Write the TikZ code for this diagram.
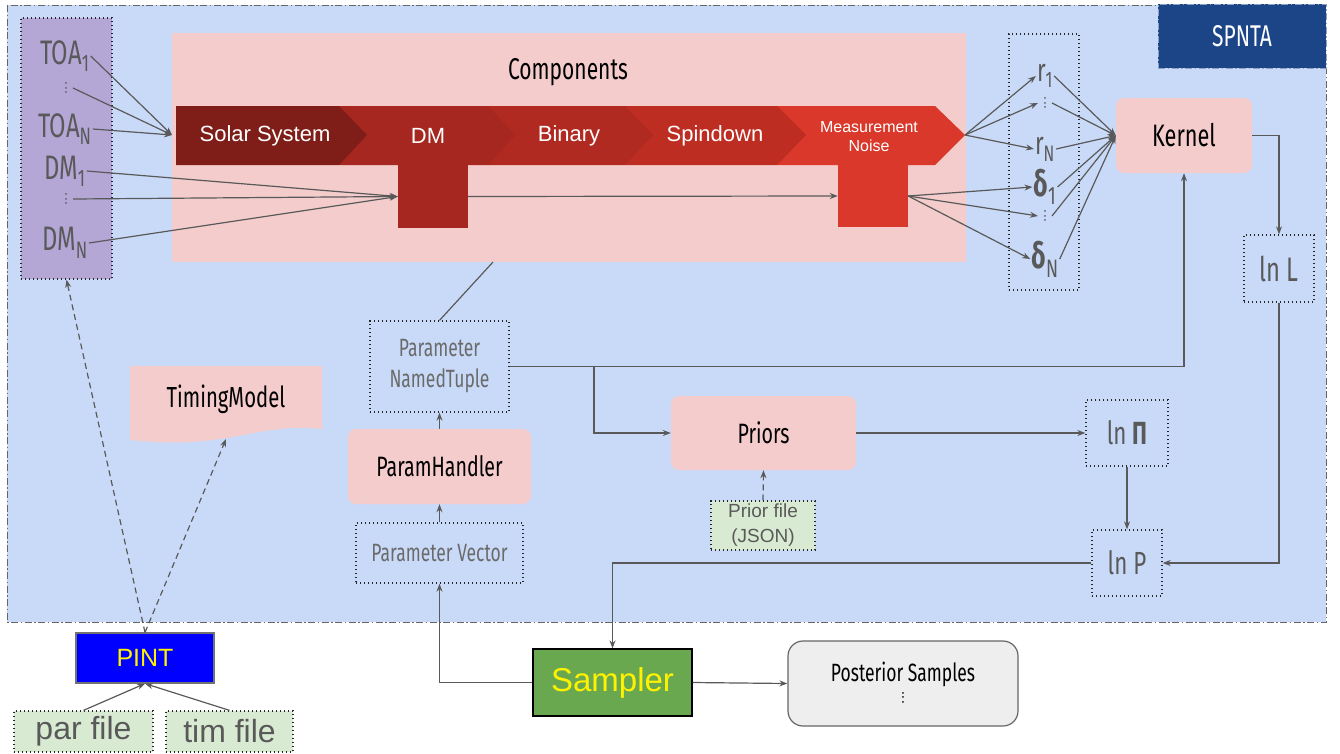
\documentclass[tikz,border=0pt]{standalone}
\usepackage{fontspec}
\setmainfont{Liberation Sans}
\newfontfamily\nrw[FakeStretch=0.7]{Fira Sans}
\usetikzlibrary{arrows.meta,
	calc,
	positioning}
\definecolor{spbg}{HTML}{C9DAF8}
\definecolor{spblue}{HTML}{1C4587}
\definecolor{pnk}{HTML}{F4CCCC}
\definecolor{purp}{HTML}{B4A7D6}
\definecolor{grnf}{HTML}{D9EAD3}
\definecolor{txt}{HTML}{595959}
\definecolor{arc}{HTML}{595959}
\definecolor{sscol}{HTML}{7F1D18}
\definecolor{dmcol}{HTML}{A6271F}
\definecolor{bicol}{HTML}{B02A21}
\definecolor{spcol}{HTML}{BE2D22}
\definecolor{mncol}{HTML}{D9382B}
\definecolor{smp}{HTML}{6AA84F}
\definecolor{postf}{HTML}{EEEEEE}
\newcommand{\fsz}[1]{\fontsize{#1}{#1}\selectfont}
\newcommand{\vd}{\rotatebox{90}{\normalfont\fsz{15}.\kern0.6pt.\kern0.6pt.}}
\tikzstyle{pk}=[fill=pnk, rounded corners=8pt, inner sep=0, font=\nrw\fsz{28}]
\tikzstyle{dt}=[draw=black!85, dash pattern=on 1.4pt off 2.6pt, line width=1.3pt, inner sep=0]
\tikzstyle{gf}=[dt, fill=grnf, text=txt, align=center]
\tikzstyle{gt}=[text=txt, font=\nrw\fsz{34}, inner sep=1pt]
\tikzstyle{ar}=[draw=arc, line width=1.2pt, -{Stealth[length=8pt,width=6pt]}]
\tikzstyle{dar}=[ar, dash pattern=on 6pt off 4pt]
\tikzstyle{pl}=[draw=arc, line width=1.2pt]
\tikzstyle{dd}=[dash pattern=on 7pt off 2.5pt on 1.5pt off 2.5pt]

\begin{document}
\begin{tikzpicture}[x=1pt,y=-1pt]
\useasboundingbox (0,0) rectangle (1340,753);
% SPNTA frame
\draw[dd, draw=black!60, fill=spbg, line width=1pt] (7,5) rectangle (1326,622);
\node[dd, fill=spblue, draw=spblue!50!white, line width=1pt, minimum width=168pt, minimum height=64pt,
      text=white, font=\nrw\fsz{30}] (lbl) at (1242,36) {SPNTA};

% components
\node[fill=pnk, minimum width=794pt, minimum height=229pt, inner sep=0] (comp) at (569,147.5) {};
\node[font=\nrw\fsz{30}] (ctitle) at (568,72) {Components};
\foreach \xa/\xb/\xt/\cl in {777/935/965/mncol, 625/777/806/spcol, 488/625/653/bicol, 339/488/515/dmcol, 176/339/367/sscol}
	\fill[\cl] (\xa,106) -- (\xb,106) -- (\xt,135) -- (\xb,165) -- (\xa,165) -- cycle;
\node[fill=dmcol, minimum width=70pt, minimum height=63pt, inner sep=0] (dmblk) at (433,196.5) {};
\node[fill=mncol, minimum width=70pt, minimum height=62pt, inner sep=0] (mnblk) at (873,196) {};
\node[text=white, font=\fsz{22}] (solar) at (265,136) {Solar System};
\node[text=white, font=\fsz{22}] (dm) at (428,136) {DM};
\node[text=white, font=\fsz{22}] (bin) at (569,136) {Binary};
\node[text=white, font=\fsz{22}] (spin) at (715,136) {Spindown};
\node[text=white, font=\fontsize{16}{19}\selectfont, align=center] (noise) at (869,137) {Measurement\\Noise};
\coordinate (solin) at (172,135);
\coordinate (mntip) at (965,135);
\coordinate (cb) at (493,262);

% TOA / DM column
\node[dt, fill=purp, minimum width=91pt, minimum height=261pt] (toacol) at (66.5,148.5) {};
\node[gt] (t1) at (65,56) {TOA\textsubscript{1}};
\node[gt, inner sep=6pt] (t2) at (66,88) {\vd};
\node[gt] (tn) at (65,129) {TOA\textsubscript{N}};
\node[gt] (d1) at (65,171) {DM\textsubscript{1}};
\node[gt, inner sep=6pt] (d2) at (66,199) {\vd};
\node[gt] (dn) at (65,243) {DM\textsubscript{N}};

% residual column
\node[dt, minimum width=70pt, minimum height=256pt] (rdcol) at (1044,162) {};
\node[gt, font=\nrw\fsz{32}] (r1) at (1045,76) {r\textsubscript{1}};
\node[gt, inner sep=6pt] (r2) at (1045,103) {\vd};
\node[gt, font=\nrw\fsz{32}] (rn) at (1045,149) {r\textsubscript{N}};
\node[gt, font=\nrw\bfseries\fsz{36}] (e1) at (1045,187) {δ\textsubscript{\mdseries 1}};
\node[gt, inner sep=6pt] (e2) at (1045,216) {\vd};
\node[gt, font=\nrw\bfseries\fsz{36}] (en) at (1045,259) {δ\textsubscript{\mdseries N}};

% likelihood side
\node[pk, minimum width=136pt, minimum height=75pt, font=\nrw\fsz{31}] (kern) at (1184,135.5) {Kernel};
\node[dt, minimum width=70pt, minimum height=67pt, text=txt, font=\nrw\fsz{34}] (lnl) at (1279,268.5) {ln L};
\node[dt, minimum width=82pt, minimum height=66pt, text=txt, font=\nrw\fsz{32}] (lnpi) at (1127,433) {ln {\bfseries Π}};
\node[dt, minimum width=70pt, minimum height=66pt, text=txt, font=\nrw\fsz{32}] (lnp) at (1127,563) {ln P};
\node[pk, minimum width=185pt, minimum height=74pt] (prior) at (763.5,433) {Priors};
\node[gf, minimum width=104pt, minimum height=49pt, font=\fontsize{19}{25}\selectfont] (pfile) at (763,525.5) {Prior file\\(JSON)};

% parameters
\node[dt, minimum width=139pt, minimum height=91pt, text=txt!90, align=center,
      font=\nrw\fontsize{25}{31}\selectfont] (tuple) at (439.5,366.5) {Parameter\\NamedTuple};
\node[pk, minimum width=183pt, minimum height=75pt] (handler) at (439.5,466.5) {ParamHandler};
\node[dt, minimum width=167pt, minimum height=60pt, text=txt!90, font=\nrw\fsz{25}] (pvec) at (439.5,553) {Parameter Vector};
\coordinate (br) at (594,366.5);

% sampling
\node[fill=smp, draw=black, line width=1.2pt, minimum width=159pt, minimum height=67pt,
      text=yellow, font=\fsz{33}] (sampler) at (612.5,682.5) {Sampler};
\node[fill=postf, draw=black!60, line width=1.2pt, rounded corners=15pt, minimum width=230pt, minimum height=85pt,
      align=center, font=\nrw\fsz{25}] (post) at (903,683.5) {Posterior Samples\\[-2pt]\vd};

% PINT
\fill[pnk] (130,366) -- (322,366) -- (322,429) .. controls (285,425) and (262,432) .. (226,438)
	.. controls (190,444) and (160,443) .. (130,440) -- cycle;
\node[font=\nrw\fsz{29}] (timing) at (226,399) {TimingModel};
\coordinate (tmb) at (226,439);
\node[fill=blue, draw=black!55, line width=1.2pt, minimum width=138pt, minimum height=50pt,
      text=yellow, font=\fsz{25}] (pint) at (145,658) {PINT};
\node[gf, minimum width=139pt, minimum height=41pt, font=\fsz{32}] (par) at (83.5,731.5) {par file};
\node[gf, minimum width=127pt, minimum height=41pt, font=\fsz{32}] (tim) at (229.5,731.5) {tim file};

% connectors
\foreach \n in {t1,t2,tn}
	\draw[ar] (\n.east) -- (solin);
\foreach \n in {d1,d2,dn}
	\draw[ar] (\n.east) -- (dmblk.west);
\draw[ar] (dmblk.east) -- (mnblk.west);
\foreach \n in {r1,r2,rn}
	\draw[ar] (mntip) -- (\n.west);
\foreach \n in {e1,e2,en}
	\draw[ar] (mnblk.east) -- (\n.west);
\foreach \n in {r1,r2,rn,e1,e2,en}
	\draw[ar] (\n.east) -- (kern.west);
\draw[ar] (kern.east) -| (lnl.north);
\draw[ar] (lnl.south) |- (lnp.east);
\draw[ar] (lnpi.south) -- (lnp.north);
\draw[ar] (prior.east) -- (lnpi.west);
\draw[dar] (pfile.north) -- (prior.south);
\draw[pl] (tuple.north) -- (cb);
\draw[ar] (tuple.east) -| (kern.south);
\draw[ar] (br) |- (prior.west);
\draw[ar] (handler.north) -- (tuple.south);
\draw[ar] (pvec.north) -- (handler.south);
\draw[ar] (lnp.west) -| (sampler.north);
\draw[ar] (sampler.west) -| (pvec.south);
\draw[ar] (sampler.east) -- (post.west);
\draw[ar] (par.north) -- (pint.south);
\draw[ar] (tim.north) -- (pint.south);
\draw[dar] (pint.north) -- (toacol.south);
\draw[dar] (pint.north) -- (tmb);
\end{tikzpicture}
\end{document}
